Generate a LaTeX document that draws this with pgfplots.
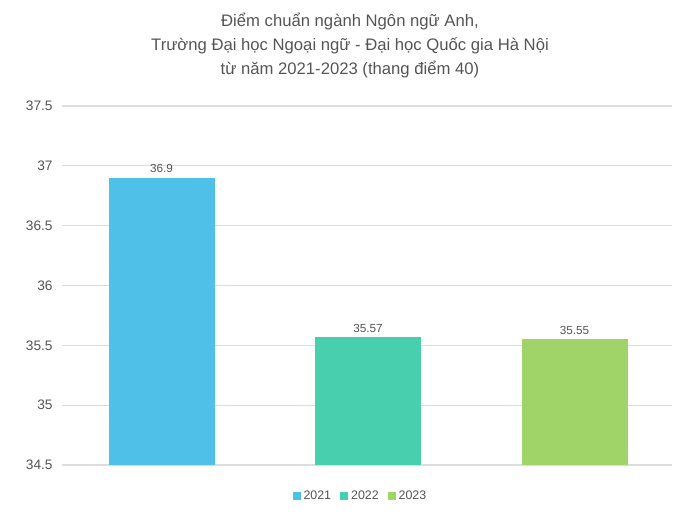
\documentclass[border=0pt]{standalone}
\usepackage{fontspec}
\setmainfont{Liberation Sans}
\usepackage{pgfplots}
\pgfplotsset{compat=1.18}
\definecolor{c2021}{HTML}{4FC1E9}
\definecolor{c2022}{HTML}{48CFAD}
\definecolor{c2023}{HTML}{A0D468}
\definecolor{txt}{HTML}{555555}
\definecolor{grd}{HTML}{DDDDDD}
\begin{document}
\begin{tikzpicture}[x=1pt,y=1pt]
\useasboundingbox (0,0) rectangle (525,393.75);
\node[align=center, font=\fontsize{12.5}{18}\selectfont, text=txt] at (262.5,359.25)
  {Điểm chuẩn ngành Ngôn ngữ Anh,\\Trường Đại học Ngoại ngữ - Đại học Quốc gia Hà Nội\\từ năm 2021-2023 (thang điểm 40)};
\begin{axis}[
  at={(46.5pt,45pt)}, anchor=south west,
  scale only axis, width=457.5pt, height=269.25pt,
  ybar, bar shift=0pt, bar width=79.5pt,
  xmin=-0.482, xmax=2.472, ymin=34.5, ymax=37.5,
  ytick={34.5,35,35.5,36,36.5,37,37.5},
  xtick=\empty,
  axis line style={draw=none},
  major tick length=0pt,
  ymajorgrids, grid style={grd, line width=0.8pt},
  /pgf/number format/assume math mode=true,
  /pgf/number format/fixed,
  yticklabel style={font=\fontsize{10.3}{12}\selectfont, text=txt, xshift=-3.5pt},
  nodes near coords,
  nodes near coords style={font=\fontsize{8.8}{10}\selectfont, text=txt, /pgf/number format/assume math mode=true},
  point meta=explicit symbolic,
  legend style={at={(0.49,-0.055)}, anchor=north, draw=none, legend columns=3,
    font=\fontsize{9.3}{10}\selectfont, text=txt,
    /tikz/every even column/.append style={column sep=5pt}},
  legend image code/.code={\fill[#1] (0pt,-3pt) rectangle (6pt,3pt);},
]
\addplot[fill=c2021, draw=none] coordinates {(0,36.9)[36.9]};
\addplot[fill=c2022, draw=none] coordinates {(1,35.57)[35.57]};
\addplot[fill=c2023, draw=none] coordinates {(2,35.55)[35.55]};
\legend{2021,2022,2023}
\end{axis}
\end{tikzpicture}
\end{document}
